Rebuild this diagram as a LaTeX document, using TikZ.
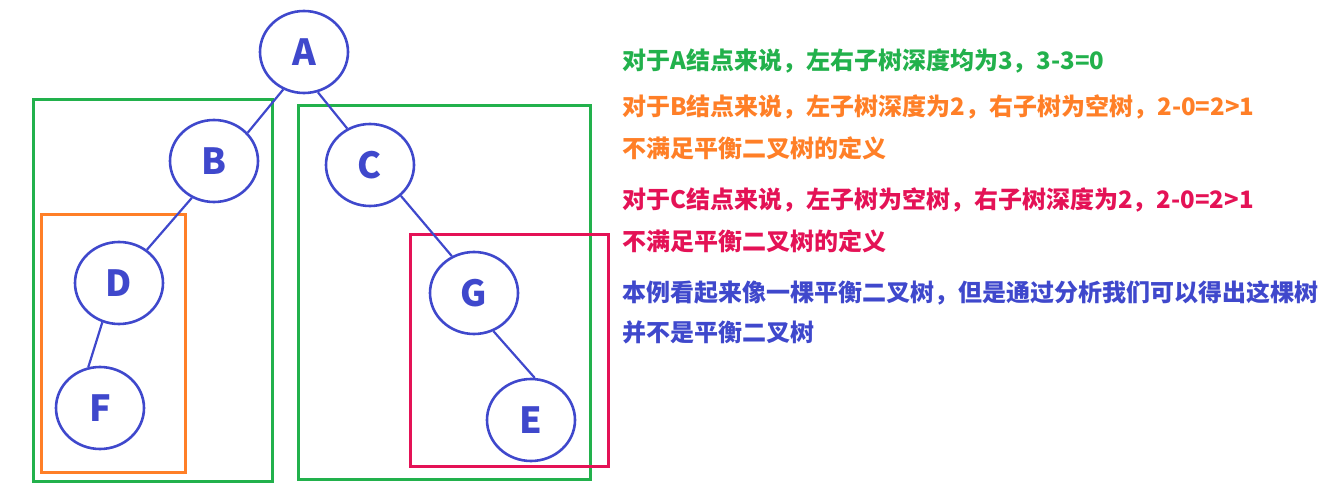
\documentclass[tikz,border=0pt]{standalone}
\usepackage{fontspec}
\setmainfont{Noto Sans CJK SC}
\usetikzlibrary{shapes.geometric}
\definecolor{treeblue}{RGB}{63,72,204}
\definecolor{boxgreen}{RGB}{34,177,76}
\definecolor{boxorange}{RGB}{255,127,39}
\definecolor{boxpink}{RGB}{228,18,86}
\begin{document}
\begin{tikzpicture}[x=1pt,y=-1pt,
  vert/.style={ellipse,draw=treeblue,line width=2.6pt,minimum width=88pt,minimum height=82pt,
    inner sep=0pt,text=treeblue,font=\fontsize{36}{36}\selectfont\bfseries},
  link/.style={draw=treeblue,line width=2.2pt},
  subtree/.style={line width=3pt},
  note/.style={anchor=west,inner sep=0pt,font=\fontsize{24}{24}\selectfont\bfseries}]
  \useasboundingbox (0,0) rectangle (1342,486);
  \draw[subtree,boxgreen] (33,100) rectangle (272,481);
  \draw[subtree,boxgreen] (298,106) rectangle (590,479);
  \draw[subtree,boxorange] (41,215) rectangle (185,472);
  \draw[subtree,boxpink] (410,235) rectangle (608,466);
  \node[vert] (A) at (304,52) {A};
  \node[vert] (B) at (214,161) {B};
  \node[vert] (C) at (370,165) {C};
  \node[vert] (D) at (119,283) {D};
  \node[vert] (F) at (100,408) {F};
  \node[vert] (G) at (474,293) {G};
  \node[vert] (E) at (531,420) {E};
  \draw[link] (A.-119) -- (B.40);
  \draw[link] (A.-71) -- (C.122);
  \draw[link] (B.-121) -- (D.50);
  \draw[link] (D.-113) -- (F.106);
  \draw[link] (C.-45) -- (G.121);
  \draw[link] (G.-63) -- (E.85);
  \node[note,text=boxgreen] (noteA) at (622,61) {对于A结点来说，左右子树深度均为3，3-3=0};
  \node[note,text=boxorange] (noteB) at (622,107) {对于B结点来说，左子树深度为2，右子树为空树，2-0=2>1};
  \node[note,text=boxorange] (failB) at (622,148) {不满足平衡二叉树的定义};
  \node[note,text=boxpink] (noteC) at (622,200) {对于C结点来说，左子树为空树，右子树深度为2，2-0=2>1};
  \node[note,text=boxpink] (failC) at (622,241) {不满足平衡二叉树的定义};
  \node[note,text=treeblue] (sumA) at (622,293) {本例看起来像一棵平衡二叉树，但是通过分析我们可以得出这棵树};
  \node[note,text=treeblue] (sumB) at (622,332) {并不是平衡二叉树};
\end{tikzpicture}
\end{document}
